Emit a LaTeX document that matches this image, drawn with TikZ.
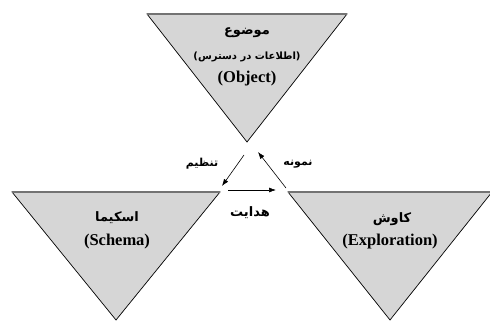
\documentclass[tikz,border=0pt]{standalone}
\usepackage{fontspec}
\setmainfont{Liberation Serif}
\newfontfamily\farsi[Script=Arabic]{DejaVu Sans}
\TeXXeTstate=1
\usetikzlibrary{arrows.meta}

\tikzset{
  tri/.style={fill=black!16, draw=black, line width=0.7pt},
  triedge/.style={draw=black!55, line width=2pt},
  latin/.style={font=\bfseries\fontsize{16.5}{18}\selectfont},
  fa/.style={font=\farsi\bfseries\fontsize{13}{15}\selectfont},
  fasmall/.style={font=\farsi\bfseries\fontsize{10}{12}\selectfont},
  falabel/.style={font=\farsi\bfseries\fontsize{11}{13}\selectfont},
  flow/.style={-{Latex[length=7pt,width=5pt]}, line width=0.6pt},
}

\begin{document}
\begin{tikzpicture}[x=1pt,y=-1pt]
\useasboundingbox (0,0) rectangle (490,321);

% object
\coordinate (objL) at (147,14);
\coordinate (objR) at (347,14);
\coordinate (objB) at (247,142);
\filldraw[tri] (objL) -- (objR) -- (objB) -- cycle;
\draw[triedge] (objL) -- (objR);
\node[fa] (objfa) at (247,33) {\beginR موضوع\endR};
\node[fasmall] (objsub) at (247,57) {\beginR (اطلاعات در دسترس)\endR};
\node[latin] (objen) at (247,79) {(Object)};

% schema
\coordinate (schL) at (12,192);
\coordinate (schR) at (220,192);
\coordinate (schB) at (116,320);
\filldraw[tri] (schL) -- (schR) -- (schB) -- cycle;
\draw[triedge] (schL) -- (schR);
\node[fa] (schfa) at (117,218) {\beginR اسکیما\endR};
\node[latin] (schen) at (117,242) {(Schema)};

% exploration
\coordinate (expL) at (288,192);
\coordinate (expR) at (492,192);
\coordinate (expB) at (390,320);
\filldraw[tri] (expL) -- (expR) -- (expB) -- cycle;
\draw[triedge] (expL) -- (expR);
\node[fa] (expfa) at (392,219) {\beginR کاوش\endR};
\node[latin] (expen) at (390,242) {(Exploration)};

% arrows
\coordinate (a1s) at (244,155);
\coordinate (a1e) at (222,186);
\coordinate (a2s) at (228,190);
\coordinate (a2e) at (276,190);
\coordinate (a3s) at (286,188);
\coordinate (a3e) at (258,152);
\draw[flow] (a1s) -- (a1e);
\draw[flow] (a2s) -- (a2e);
\draw[flow] (a3s) -- (a3e);
\node[falabel] (tanzim) at (202,164) {\beginR تنظیم\endR};
\node[falabel] (nemune) at (298,164) {\beginR نمونه\endR};
\node[fa] (hedayat) at (250,213) {\beginR هدایت\endR};
\end{tikzpicture}
\end{document}
